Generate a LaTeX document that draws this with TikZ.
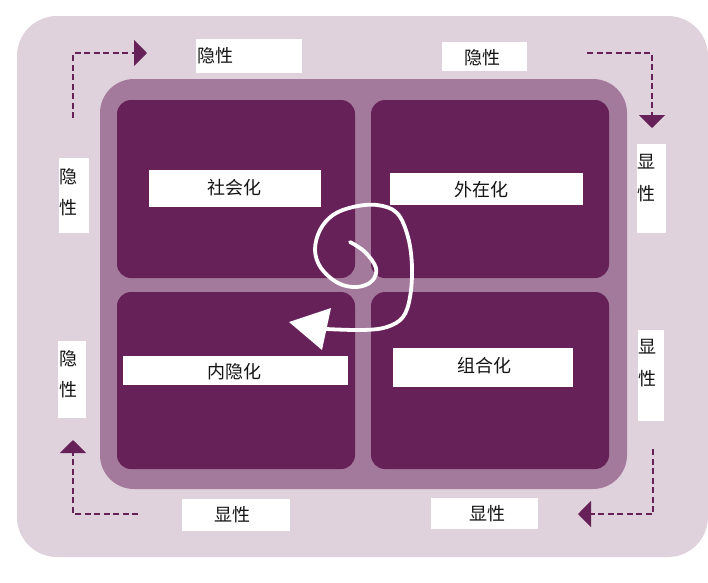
\documentclass[tikz,border=0pt]{standalone}
\usepackage{fontspec}
\newfontfamily\cjk{Noto Sans CJK SC}
\usetikzlibrary{arrows.meta}
\definecolor{light}{RGB}{224,210,221}
\definecolor{midp}{RGB}{163,122,155}
\definecolor{darkp}{RGB}{102,33,89}
\definecolor{ink}{RGB}{20,20,20}
\begin{document}
\begin{tikzpicture}[x=1pt,y=-1pt,
  quad/.style={fill=darkp, rounded corners=14pt, draw=none},
  wbox/.style={fill=white, inner sep=0pt, draw=none},
  txt/.style={font=\cjk\fontsize{18}{20}\selectfont, text=ink, inner sep=0pt},
  vtxt/.style={txt, align=center, font=\cjk\fontsize{18}{31.5}\selectfont},
  flow/.style={draw=darkp, line width=2.2pt, dash pattern=on 6pt off 3.5pt, -{Triangle[width=26pt,length=13pt,fill=darkp]}}]
\useasboundingbox (0,0) rectangle (708,582);
% backgrounds
\fill[light, rounded corners=40pt] (17,16) rectangle (708,557);
\fill[midp, rounded corners=34pt] (100,79) rectangle (627,489);
\fill[quad] (117,100) rectangle (355,278);
\fill[quad] (371,100) rectangle (609,278);
\fill[quad] (117,292) rectangle (355,469);
\fill[quad] (371,292) rectangle (609,469);
% inner labels
\node[wbox, minimum width=172pt, minimum height=37pt] (b1) at (235,188.5) {};
\node[txt] (t1) at (234,188) {社会化};
\node[wbox, minimum width=193pt, minimum height=32pt] (b2) at (486.5,189) {};
\node[txt] (t2) at (481,190) {外在化};
\node[wbox, minimum width=225pt, minimum height=29pt] (b3) at (235.5,370.5) {};
\node[txt] (t3) at (234,372) {内隐化};
\node[wbox, minimum width=180pt, minimum height=39pt] (b4) at (483,367.5) {};
\node[txt] (t4) at (484,366) {组合化};
% outer labels
\node[wbox, minimum width=106pt, minimum height=34pt] (o1) at (249,56) {};
\node[txt] (p1) at (215,56) {隐性};
\node[wbox, minimum width=85pt, minimum height=29pt] (o2) at (484.5,56.5) {};
\node[txt] (p2) at (482,58) {隐性};
\node[wbox, minimum width=108pt, minimum height=32pt] (o3) at (236,515) {};
\node[txt] (p3) at (232,515) {显性};
\node[wbox, minimum width=107pt, minimum height=31pt] (o4) at (484.5,513.5) {};
\node[txt] (p4) at (487,514) {显性};
\node[wbox, minimum width=30pt, minimum height=75pt] (o5) at (74,195.5) {};
\node[vtxt] (p5) at (68.5,192) {隐\\性};
\node[wbox, minimum width=29pt, minimum height=89pt] (o6) at (651.5,188.5) {};
\node[vtxt] (p6) at (646,178) {显\\性};
\node[wbox, minimum width=28pt, minimum height=77pt] (o7) at (72,379.5) {};
\node[vtxt] (p7) at (68,374) {隐\\性};
\node[wbox, minimum width=26pt, minimum height=91pt] (o8) at (651,375.5) {};
\node[vtxt] (p8) at (647,363) {显\\性};
% dashed flow arrows
\coordinate (a1s) at (73,118); \coordinate (a1c) at (73,53); \coordinate (a1e) at (147,53);
\coordinate (a2s) at (587,53); \coordinate (a2c) at (652,53); \coordinate (a2e) at (652,128);
\coordinate (a3s) at (653,449); \coordinate (a3c) at (653,514); \coordinate (a3e) at (578,514);
\coordinate (a4s) at (138,514); \coordinate (a4c) at (73,514); \coordinate (a4e) at (73,440);
\draw[flow] (a1s) -- (a1c) -- (a1e);
\draw[flow] (a2s) -- (a2c) -- (a2e);
\draw[flow] (a3s) -- (a3c) -- (a3e);
\draw[flow] (a4s) -- (a4c) -- (a4e);
% spiral
\draw[white, line width=3.8pt, line cap=round] plot[smooth, tension=0.6] coordinates {(350,242) (365,252) (376,268) (372,281) (357,287) (338,283) (321,268) (315,250) (320,230) (333,215) (353,207) (377,205) (397,213) (408,237) (412,267) (410,297) (403,317) (387,327) (363,330) (326,329)};
\fill[white] (289,322) -- (331,308) -- (322,350) -- cycle;
\end{tikzpicture}
\end{document}
